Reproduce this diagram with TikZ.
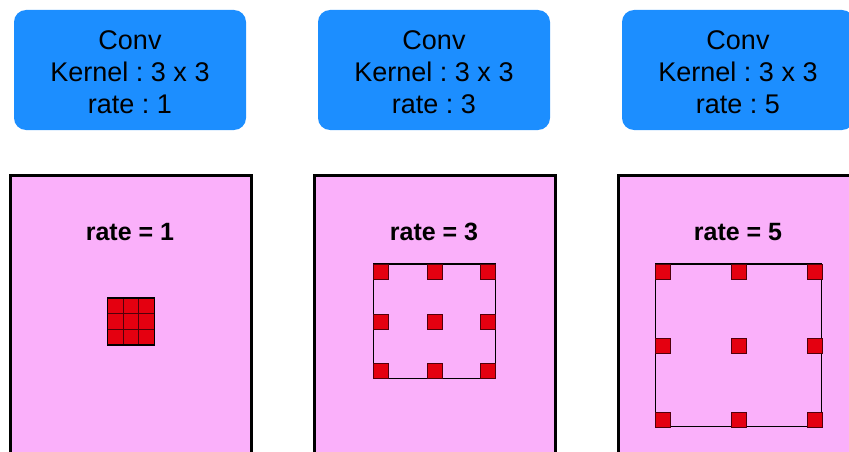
\documentclass[tikz,border=0pt]{standalone}
\usepackage{fontspec}
\setmainfont{Liberation Sans}
\definecolor{convblue}{RGB}{28,142,255}
\definecolor{panelpink}{RGB}{250,176,250}
\definecolor{kred}{RGB}{228,0,16}
\definecolor{kedge}{RGB}{80,0,10}
\begin{document}
\begin{tikzpicture}[x=1pt,y=-1pt,
  convbox/.style={fill=convblue,rounded corners=12pt,minimum width=232pt,minimum height=120pt,
    align=center,font=\frenchspacing\fontsize{27}{32}\selectfont,inner sep=0pt},
  panel/.style={fill=panelpink,draw=black,line width=3pt,minimum width=241pt,minimum height=300pt,inner sep=0pt},
  ratelabel/.style={font=\bfseries\fontsize{25}{28}\selectfont,inner sep=0pt},
  cell/.style={fill=kred,draw=kedge,line width=0.7pt,minimum size=15pt,inner sep=0pt},
  field/.style={draw=black,line width=1.4pt},
]
\useasboundingbox (0,0) rectangle (849,452);
\begin{scope}
\clip (0,0) rectangle (849,452);
% conv boxes
\node[convbox] (c1) at (130,70) {};
\node[convbox] (c2) at (434,70) {};
\node[convbox] (c3) at (738,70) {};
\node[font=\frenchspacing\fontsize{27}{32}\selectfont,align=center,inner sep=0pt] (t1) at (130,72) {Conv\\Kernel : 3 x 3\\rate : 1};
\node[font=\frenchspacing\fontsize{27}{32}\selectfont,align=center,inner sep=0pt] (t2) at (434,72) {Conv\\Kernel : 3 x 3\\rate : 3};
\node[font=\frenchspacing\fontsize{27}{32}\selectfont,align=center,inner sep=0pt] (t3) at (738,72) {Conv\\Kernel : 3 x 3\\rate : 5};
% panels
\node[panel,anchor=north] (p1) at (130.5,174) {};
\node[panel,anchor=north] (p2) at (434.5,174) {};
\node[panel,anchor=north] (p3) at (738.5,174) {};
\node[ratelabel] (r1) at (130,232) {rate = 1};
\node[ratelabel] (r2) at (434,232) {rate = 3};
\node[ratelabel] (r3) at (738,232) {rate = 5};
% rate 1 kernel
\foreach \i in {0,1,2}{
  \foreach \j in {0,1,2}{
    \node[cell,minimum size=15.67pt] (a\i\j) at (115.3+15.67*\i,305.8+15.67*\j) {};
  }
}
\draw[field,line width=1.6pt] (107.5,298) rectangle (154.5,345);
% rate 3 kernel
\draw[field] (373.5,264) rectangle (495.5,378.5);
\foreach \i/\x in {0/380.5,1/434.5,2/487.5}{
  \foreach \j/\y in {0/271.5,1/321.5,2/370.5}{
    \node[cell] (b\i\j) at (\x,\y) {};
  }
}
% rate 5 kernel
\draw[field] (655.5,264) rectangle (821.5,426.5);
\foreach \i/\x in {0/662.5,1/738.5,2/814.5}{
  \foreach \j/\y in {0/271.5,1/345.5,2/419.5}{
    \node[cell] (d\i\j) at (\x,\y) {};
  }
}
\end{scope}
\end{tikzpicture}
\end{document}
